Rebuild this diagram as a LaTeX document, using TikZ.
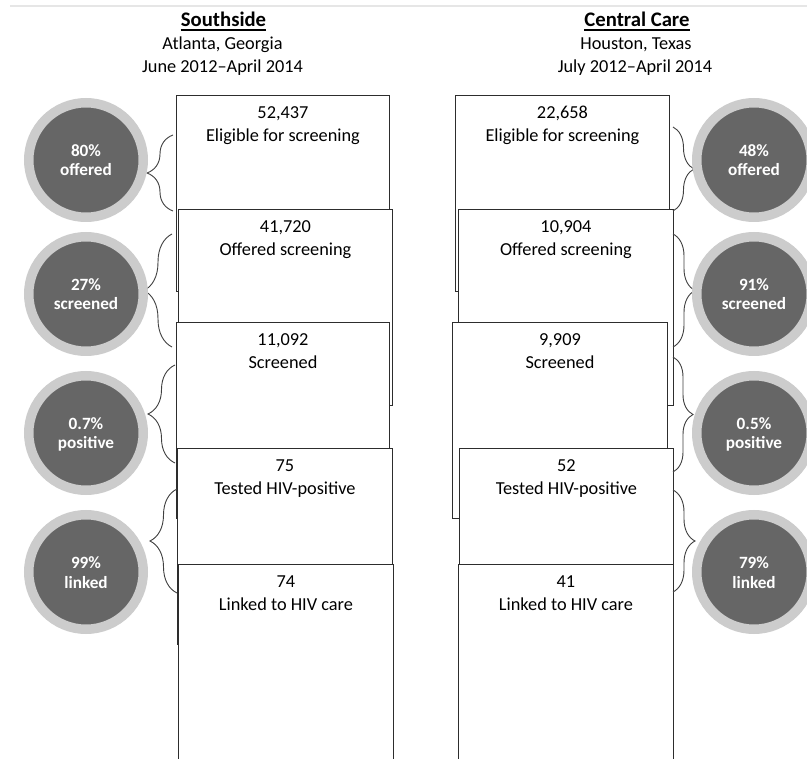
\documentclass[tikz,border=0pt]{standalone}
\usepackage{fontspec}
\setmainfont{Carlito}
\usetikzlibrary{decorations.pathreplacing}
\definecolor{ringgray}{RGB}{204,204,204}
\definecolor{discgray}{RGB}{102,102,102}
\definecolor{boxline}{RGB}{45,45,45}
\definecolor{braceline}{RGB}{64,64,64}
\definecolor{rulegray}{RGB}{230,230,230}
\begin{document}
\begin{tikzpicture}[x=1pt,y=-1pt,
  stepbox/.style={draw=boxline, line width=0.9pt, fill=white, rectangle,
    minimum width=#1, minimum height=196pt, anchor=north west, inner sep=0pt},
  boxtxt/.style={anchor=base, inner sep=0pt, font=\fontsize{18.3}{21}\selectfont},
  headtxt/.style={anchor=base, inner sep=0pt, font=\fontsize{18.3}{21}\selectfont},
  titletxt/.style={anchor=base, inner sep=0pt, font=\bfseries\fontsize{20.7}{24}\selectfont},
  disc/.style={circle, draw=ringgray, line width=9.5pt, fill=discgray,
    minimum size=114.5pt, inner sep=0pt},
  disctxt/.style={anchor=base, inner sep=0pt, text=white,
    font=\bfseries\fontsize{17.2}{19}\selectfont},
  brc/.style={draw=braceline, line width=0.9pt, decorate,
    decoration={brace, amplitude=#1}},
  uline/.style={line width=1.3pt, black}
]
\path[use as bounding box, clip] (0,0) rectangle (807,759);
\fill[white] (0,0) rectangle (807,759);

% faint top rule
\coordinate (r0) at (10,6);
\coordinate (r1) at (807,6);
\draw[rulegray, line width=1.5pt] (r0) -- (r1);

% headers
\node[titletxt] (t1) at (223.5,26.7) {Southside};
\draw[uline] ([yshift=-3.4pt]t1.base west) -- ([yshift=-3.4pt]t1.base east);
\node[headtxt] (h1a) at (222.5,50) {Atlanta, Georgia};
\node[headtxt] (h1b) at (222.5,72.7) {June 2012--April 2014};

\node[titletxt] (t2) at (637,26.7) {Central Care};
\draw[uline] ([yshift=-3.4pt]t2.base west) -- ([yshift=-3.4pt]t2.base east);
\node[headtxt] (h2a) at (636,50) {Houston, Texas};
\node[headtxt] (h2b) at (635,72.7) {July 2012--April 2014};

% Southside boxes
\node[stepbox=213pt] (s1) at (176,95) {};
\node[boxtxt] (s1n) at ([yshift=-23.5pt]s1.north) {52,437};
\node[boxtxt] (s1l) at ([yshift=-47pt]s1.north) {Eligible for screening};
\node[stepbox=214pt] (s2) at (178,209) {};
\node[boxtxt] (s2n) at ([yshift=-23.5pt]s2.north) {41,720};
\node[boxtxt] (s2l) at ([yshift=-47pt]s2.north) {Offered screening};
\node[stepbox=213pt] (s3) at (176,322) {};
\node[boxtxt] (s3n) at ([yshift=-23.5pt]s3.north) {11,092};
\node[boxtxt] (s3l) at ([yshift=-47pt]s3.north) {Screened};
\node[stepbox=215pt] (s4) at (177,448) {};
\node[boxtxt] (s4n) at ([yshift=-23.5pt]s4.north) {75};
\node[boxtxt] (s4l) at ([yshift=-47pt]s4.north) {Tested HIV-positive};
\node[stepbox=215pt] (s5) at (178,564) {};
\node[boxtxt] (s5n) at ([yshift=-23.5pt]s5.north) {74};
\node[boxtxt] (s5l) at ([yshift=-47pt]s5.north) {Linked to HIV care};

% Central Care boxes
\node[stepbox=214pt] (c1) at (455,95) {};
\node[boxtxt] (c1n) at ([yshift=-23.5pt]c1.north) {22,658};
\node[boxtxt] (c1l) at ([yshift=-47pt]c1.north) {Eligible for screening};
\node[stepbox=215pt] (c2) at (458,209) {};
\node[boxtxt] (c2n) at ([yshift=-23.5pt]c2.north) {10,904};
\node[boxtxt] (c2l) at ([yshift=-47pt]c2.north) {Offered screening};
\node[stepbox=215pt] (c3) at (452,322) {};
\node[boxtxt] (c3n) at ([yshift=-23.5pt]c3.north) {9,909};
\node[boxtxt] (c3l) at ([yshift=-47pt]c3.north) {Screened};
\node[stepbox=214pt] (c4) at (459,448) {};
\node[boxtxt] (c4n) at ([yshift=-23.5pt]c4.north) {52};
\node[boxtxt] (c4l) at ([yshift=-47pt]c4.north) {Tested HIV-positive};
\node[stepbox=215pt] (c5) at (458,564) {};
\node[boxtxt] (c5n) at ([yshift=-23.5pt]c5.north) {41};
\node[boxtxt] (c5l) at ([yshift=-47pt]c5.north) {Linked to HIV care};

% left braces
\coordinate (lb1t) at (173,135); \coordinate (lb1b) at (173,211);
\coordinate (lb2t) at (172,234); \coordinate (lb2b) at (172,347);
\coordinate (lb3t) at (175,365); \coordinate (lb3b) at (175,463);
\coordinate (lb4t) at (177,489); \coordinate (lb4b) at (177,593);
\draw[brc=26pt] (lb1b) -- (lb1t);
\draw[brc=28pt] (lb2b) -- (lb2t);
\draw[brc=27pt] (lb3b) -- (lb3t);
\draw[brc=27pt] (lb4b) -- (lb4t);

% right braces
\coordinate (rb1t) at (673,127); \coordinate (rb1b) at (673,211);
\coordinate (rb2t) at (673,234); \coordinate (rb2b) at (673,347);
\coordinate (rb3t) at (673,357); \coordinate (rb3b) at (673,472);
\coordinate (rb4t) at (673,490); \coordinate (rb4b) at (673,592);
\draw[brc=21pt] (rb1t) -- (rb1b);
\draw[brc=22pt] (rb2t) -- (rb2b);
\draw[brc=20pt] (rb3t) -- (rb3b);
\draw[brc=22pt] (rb4t) -- (rb4b);

% left discs
\node[disc] (l1) at (86,160) {};
\node[disctxt] (l1a) at ([yshift=3.5pt]l1.center) {80\%};
\node[disctxt] (l1b) at ([yshift=-16pt]l1.center) {offered};
\node[disc] (l2) at (86,294) {};
\node[disctxt] (l2a) at ([yshift=3.5pt]l2.center) {27\%};
\node[disctxt] (l2b) at ([yshift=-16pt]l2.center) {screened};
\node[disc] (l3) at (86,433) {};
\node[disctxt] (l3a) at ([yshift=3.5pt]l3.center) {0.7\%};
\node[disctxt] (l3b) at ([yshift=-16pt]l3.center) {positive};
\node[disc] (l4) at (86,572) {};
\node[disctxt] (l4a) at ([yshift=3.5pt]l4.center) {99\%};
\node[disctxt] (l4b) at ([yshift=-16pt]l4.center) {linked};

% right discs
\node[disc] (r1) at (754,160) {};
\node[disctxt] (r1a) at ([yshift=3.5pt]r1.center) {48\%};
\node[disctxt] (r1b) at ([yshift=-16pt]r1.center) {offered};
\node[disc] (r2) at (754,294) {};
\node[disctxt] (r2a) at ([yshift=3.5pt]r2.center) {91\%};
\node[disctxt] (r2b) at ([yshift=-16pt]r2.center) {screened};
\node[disc] (r3) at (754,433) {};
\node[disctxt] (r3a) at ([yshift=3.5pt]r3.center) {0.5\%};
\node[disctxt] (r3b) at ([yshift=-16pt]r3.center) {positive};
\node[disc] (r4) at (754,572) {};
\node[disctxt] (r4a) at ([yshift=3.5pt]r4.center) {79\%};
\node[disctxt] (r4b) at ([yshift=-16pt]r4.center) {linked};
\end{tikzpicture}
\end{document}
